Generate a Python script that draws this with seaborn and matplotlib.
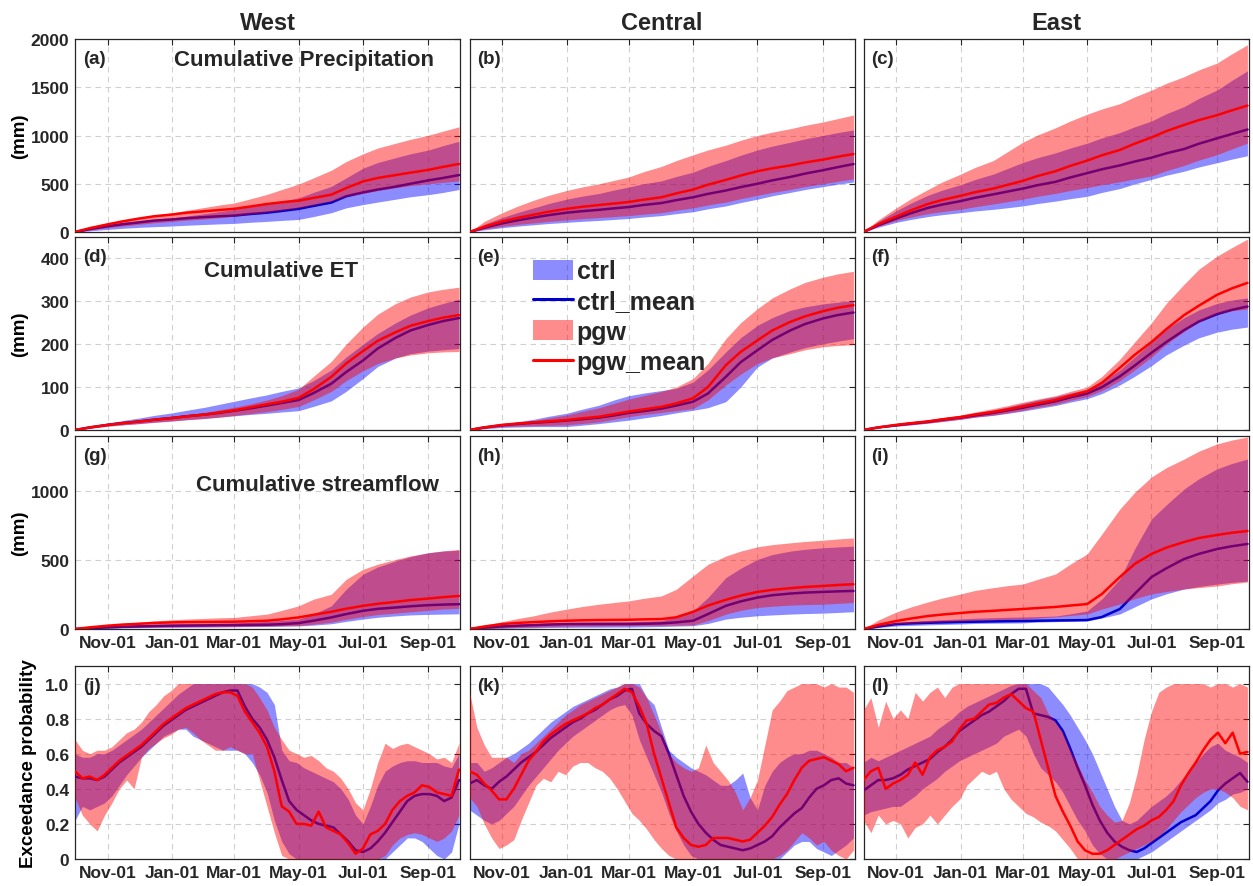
import matplotlib
matplotlib.use("Agg")
import matplotlib.pyplot as plt
import matplotlib.dates as mdates
from matplotlib.patches import Patch
from matplotlib.lines import Line2D
import pandas as pd
import seaborn as sns

# ---------------- x positions ----------------
CUM_DATES = ["2018-10-01", "2018-10-15", "2018-11-01", "2018-11-15", "2018-12-01",
             "2018-12-15", "2019-01-01", "2019-01-15", "2019-02-01", "2019-02-15",
             "2019-03-01", "2019-03-15", "2019-04-01", "2019-04-15", "2019-05-01",
             "2019-05-15", "2019-06-01", "2019-06-15", "2019-07-01", "2019-07-15",
             "2019-08-01", "2019-08-15", "2019-09-01", "2019-09-15", "2019-09-30"]
EXC_DAYS = list(range(0, 365, 7))  # weekly samples, day of water year

COLUMNS = ["West", "Central", "East"]
PANEL_LABELS = ["(a)", "(b)", "(c)", "(d)", "(e)", "(f)", "(g)", "(h)", "(i)", "(j)", "(k)", "(l)"]
XTICK_DATES = ["2018-11-01", "2019-01-01", "2019-03-01", "2019-05-01", "2019-07-01", "2019-09-01"]

# ---------------- Cumulative precipitation (mm) ----------------
a_ctrl_lo = [0, 12, 27, 38, 48, 55, 62, 70, 78, 84, 89, 100, 110, 120, 130, 160, 200, 250, 284, 310, 340, 365, 387, 410, 440]
a_ctrl_hi = [0, 45, 80, 100, 118, 133, 147, 165, 190, 212, 233, 260, 290, 320, 353, 410, 473, 560, 661, 720, 770, 810, 849, 895, 940]
a_ctrl_mean = [0, 30, 60, 80, 100, 118, 130, 143, 155, 163, 170, 185, 200, 218, 240, 270, 305, 370, 410, 440, 470, 500, 535, 560, 590]
a_pgw_lo = [0, 22, 45, 62, 80, 95, 110, 122, 135, 148, 165, 185, 205, 225, 250, 280, 320, 370, 400, 430, 460, 480, 500, 515, 530]
a_pgw_hi = [0, 55, 96, 125, 150, 175, 199, 225, 255, 280, 301, 340, 390, 440, 497, 560, 640, 730, 810, 870, 920, 960, 1003, 1045, 1090]
a_pgw_mean = [0, 40, 79, 110, 140, 163, 181, 200, 215, 228, 240, 262, 290, 308, 325, 353, 387, 455, 524, 560, 590, 615, 644, 675, 705]

b_ctrl_lo = [0, 22, 45, 60, 75, 88, 100, 110, 120, 130, 140, 155, 170, 190, 210, 240, 270, 305, 340, 375, 410, 440, 470, 495, 518]
b_ctrl_hi = [0, 80, 150, 200, 250, 295, 340, 370, 400, 435, 466, 500, 530, 575, 620, 680, 740, 795, 850, 890, 930, 965, 1000, 1030, 1057]
b_ctrl_mean = [0, 45, 90, 120, 150, 175, 200, 215, 230, 245, 259, 280, 300, 330, 360, 395, 430, 465, 500, 535, 570, 605, 640, 672, 704]
b_pgw_lo = [0, 30, 60, 78, 95, 110, 125, 138, 150, 160, 170, 185, 200, 225, 250, 280, 310, 345, 380, 410, 440, 470, 500, 525, 550]
b_pgw_hi = [0, 110, 200, 265, 330, 380, 430, 465, 500, 535, 570, 625, 680, 740, 800, 850, 900, 950, 1000, 1035, 1070, 1105, 1140, 1175, 1212]
b_pgw_mean = [0, 55, 110, 145, 180, 210, 240, 260, 280, 295, 311, 335, 360, 400, 440, 490, 540, 585, 630, 660, 690, 720, 750, 780, 808]

c_ctrl_lo = [0, 50, 100, 130, 160, 180, 200, 218, 235, 252, 270, 295, 320, 345, 370, 410, 450, 498, 545, 588, 630, 674, 717, 755, 790]
c_ctrl_hi = [0, 110, 220, 300, 380, 435, 490, 545, 600, 660, 720, 770, 820, 870, 920, 975, 1030, 1090, 1150, 1225, 1300, 1385, 1470, 1570, 1670]
c_ctrl_mean = [0, 70, 140, 195, 250, 285, 320, 355, 390, 420, 450, 485, 520, 565, 610, 650, 690, 730, 770, 815, 860, 915, 970, 1015, 1062]
c_pgw_lo = [0, 60, 120, 155, 190, 212, 235, 262, 290, 315, 340, 370, 400, 430, 460, 490, 520, 550, 580, 635, 690, 745, 800, 860, 920]
c_pgw_hi = [0, 125, 250, 345, 440, 520, 600, 670, 740, 835, 930, 1005, 1080, 1150, 1220, 1275, 1330, 1400, 1470, 1540, 1610, 1680, 1750, 1845, 1940]
c_pgw_mean = [0, 80, 160, 225, 290, 333, 375, 413, 450, 490, 530, 580, 630, 685, 740, 795, 850, 915, 980, 1045, 1110, 1160, 1210, 1260, 1310]

# ---------------- Cumulative ET (mm) ----------------
d_ctrl_lo = [0, 4, 9, 12, 15, 18, 21, 24, 27, 30, 33, 36, 39, 42, 45, 55, 68, 90, 120, 148, 168, 178, 184, 187, 190]
d_ctrl_hi = [0, 8, 16, 22, 28, 34, 40, 46, 53, 60, 67, 74, 82, 90, 98, 115, 140, 170, 200, 225, 250, 268, 285, 295, 305]
d_ctrl_mean = [0, 6, 12, 16, 20, 24, 28, 32, 36, 40, 45, 50, 57, 63, 70, 86, 108, 135, 162, 190, 215, 232, 245, 254, 261]
d_pgw_lo = [0, 4, 9, 12, 15, 18, 21, 24, 27, 30, 34, 38, 43, 48, 55, 70, 90, 115, 138, 155, 168, 175, 180, 182, 183]
d_pgw_hi = [0, 7, 14, 18, 22, 26, 31, 36, 41, 47, 53, 60, 70, 80, 95, 125, 160, 200, 240, 270, 295, 310, 322, 328, 333]
d_pgw_mean = [0, 6, 12, 16, 20, 24, 28, 32, 36, 41, 46, 52, 60, 66, 75, 95, 124, 155, 184, 208, 228, 243, 254, 262, 268]

e_ctrl_lo = [0, 3, 6, 7, 8, 8, 8, 11, 15, 19, 23, 28, 34, 40, 46, 52, 66, 100, 147, 168, 182, 192, 201, 207, 213]
e_ctrl_hi = [0, 8, 14, 19, 25, 32, 39, 48, 58, 70, 80, 86, 92, 97, 112, 140, 182, 215, 244, 262, 279, 287, 294, 298, 302]
e_ctrl_mean = [0, 6, 11, 14, 17, 19, 22, 25, 29, 34, 40, 44, 50, 57, 66, 85, 124, 158, 186, 210, 232, 247, 260, 268, 274]
e_pgw_lo = [0, 4, 8, 9, 10, 11, 12, 15, 19, 25, 31, 36, 41, 45, 50, 70, 105, 130, 155, 168, 178, 187, 194, 197, 199]
e_pgw_hi = [0, 7, 13, 17, 22, 28, 35, 43, 52, 62, 72, 80, 90, 100, 120, 155, 213, 250, 283, 308, 329, 344, 356, 364, 370]
e_pgw_mean = [0, 6, 12, 15, 18, 20, 23, 27, 31, 37, 43, 48, 54, 62, 74, 100, 151, 182, 209, 232, 252, 265, 277, 285, 291]

f_ctrl_lo = [0, 5, 9, 12, 16, 20, 25, 30, 34, 39, 44, 50, 57, 65, 73, 85, 105, 125, 150, 175, 198, 215, 228, 235, 240]
f_ctrl_hi = [0, 8, 14, 18, 23, 28, 34, 40, 47, 54, 62, 70, 78, 86, 95, 112, 140, 170, 205, 235, 262, 280, 295, 303, 308]
f_ctrl_mean = [0, 6, 11, 15, 19, 24, 29, 34, 40, 46, 52, 59, 67, 76, 85, 100, 125, 150, 180, 205, 233, 253, 270, 280, 288]
f_pgw_lo = [0, 5, 9, 12, 16, 20, 25, 30, 35, 40, 46, 53, 60, 69, 78, 92, 115, 140, 170, 200, 230, 252, 270, 278, 282]
f_pgw_hi = [0, 8, 15, 19, 24, 29, 35, 42, 50, 57, 65, 72, 80, 90, 100, 125, 165, 205, 250, 295, 340, 375, 405, 425, 445]
f_pgw_mean = [0, 6, 12, 16, 20, 25, 30, 36, 42, 48, 55, 62, 70, 80, 90, 110, 145, 175, 205, 235, 268, 290, 315, 330, 343]

# ---------------- Cumulative streamflow (mm) ----------------
g_ctrl_lo = [0, 3, 6, 8, 10, 11, 12, 13, 14, 15, 16, 17, 18, 20, 22, 28, 38, 55, 72, 85, 95, 102, 106, 108, 110]
g_ctrl_hi = [0, 10, 19, 25, 30, 33, 36, 38, 40, 42, 43, 48, 55, 62, 72, 108, 168, 288, 397, 450, 493, 525, 553, 565, 572]
g_ctrl_mean = [0, 6, 12, 16, 19, 22, 24, 25, 26, 28, 29, 30, 31, 35, 43, 60, 84, 108, 132, 146, 156, 165, 173, 177, 180]
g_pgw_lo = [0, 4, 8, 11, 13, 14, 15, 16, 17, 17, 18, 20, 22, 24, 25, 35, 50, 70, 90, 105, 115, 125, 135, 145, 150]
g_pgw_hi = [0, 15, 29, 40, 50, 58, 67, 72, 77, 81, 84, 95, 108, 135, 168, 216, 252, 360, 433, 470, 505, 530, 553, 567, 577]
g_pgw_mean = [0, 12, 24, 32, 38, 44, 48, 50, 51, 52, 53, 56, 60, 70, 84, 103, 125, 147, 168, 183, 197, 210, 221, 231, 240]

h_ctrl_lo = [0, 3, 5, 7, 9, 11, 12, 13, 13, 14, 14, 16, 18, 21, 24, 40, 72, 85, 96, 102, 108, 112, 115, 120, 125]
h_ctrl_hi = [0, 15, 29, 35, 40, 45, 48, 50, 51, 52, 53, 56, 60, 90, 132, 228, 373, 440, 505, 540, 565, 578, 589, 595, 601]
h_ctrl_mean = [0, 10, 19, 24, 28, 32, 36, 36, 36, 36, 36, 38, 41, 48, 60, 108, 168, 200, 228, 245, 257, 264, 269, 273, 276]
h_pgw_lo = [0, 4, 8, 11, 14, 17, 20, 21, 22, 23, 24, 26, 27, 28, 30, 60, 108, 135, 156, 165, 173, 177, 180, 186, 192]
h_pgw_hi = [0, 28, 53, 75, 96, 120, 144, 162, 180, 192, 204, 222, 240, 288, 385, 469, 529, 565, 596, 612, 625, 635, 644, 653, 661]
h_pgw_mean = [0, 18, 36, 44, 50, 55, 60, 63, 65, 66, 67, 70, 72, 85, 125, 170, 212, 242, 269, 284, 296, 305, 312, 319, 325]

i_ctrl_lo = [0, 11, 22, 26, 30, 33, 36, 40, 42, 43, 44, 50, 53, 56, 58, 80, 109, 160, 218, 255, 290, 308, 326, 338, 348]
i_ctrl_hi = [0, 22, 44, 55, 62, 68, 73, 78, 82, 85, 87, 90, 94, 110, 131, 218, 363, 580, 798, 900, 1016, 1090, 1161, 1200, 1233]
i_ctrl_mean = [0, 18, 36, 41, 45, 48, 51, 53, 55, 57, 58, 60, 62, 63, 65, 87, 145, 254, 377, 440, 508, 545, 580, 600, 617]
i_pgw_lo = [0, 18, 36, 42, 48, 53, 58, 63, 67, 70, 73, 80, 88, 98, 109, 145, 181, 220, 254, 272, 290, 300, 312, 328, 341]
i_pgw_hi = [0, 65, 123, 160, 196, 225, 254, 280, 300, 315, 326, 360, 399, 470, 544, 689, 870, 990, 1103, 1170, 1233, 1290, 1342, 1370, 1393]
i_pgw_mean = [0, 30, 58, 76, 94, 105, 116, 125, 132, 139, 145, 152, 160, 170, 181, 254, 377, 471, 544, 590, 631, 660, 682, 698, 711]

# ---------------- Exceedance probability (weekly) ----------------
j_ctrl_mean = [0.47, 0.46, 0.46, 0.45, 0.47, 0.51, 0.55, 0.58, 0.61, 0.64,
               0.68, 0.72, 0.76, 0.79, 0.82, 0.85, 0.87, 0.89, 0.91, 0.93,
               0.95, 0.96, 0.96, 0.87, 0.80, 0.75, 0.68, 0.58, 0.45, 0.33,
               0.28, 0.25, 0.22, 0.20, 0.19, 0.18, 0.14, 0.10, 0.05, 0.04,
               0.06, 0.10, 0.15, 0.21, 0.27, 0.33, 0.36, 0.37, 0.37, 0.36,
               0.33, 0.35, 0.45]
j_pgw_mean = [0.50, 0.46, 0.47, 0.45, 0.48, 0.52, 0.56, 0.59, 0.62, 0.65,
              0.69, 0.73, 0.77, 0.80, 0.83, 0.86, 0.88, 0.90, 0.92, 0.94,
              0.95, 0.95, 0.93, 0.84, 0.78, 0.72, 0.64, 0.50, 0.30, 0.27,
              0.20, 0.20, 0.19, 0.27, 0.18, 0.16, 0.14, 0.09, 0.03, 0.06,
              0.14, 0.16, 0.20, 0.28, 0.33, 0.36, 0.38, 0.42, 0.41, 0.38,
              0.37, 0.36, 0.51]
j_ctrl_hi = [0.60, 0.58, 0.58, 0.60, 0.60, 0.62, 0.65, 0.68, 0.71, 0.74,
             0.78, 0.82, 0.86, 0.90, 0.94, 0.97, 1.00, 1.00, 1.00, 1.00,
             1.00, 1.00, 1.00, 1.00, 1.00, 0.98, 0.95, 0.88, 0.62, 0.56,
             0.55, 0.52, 0.50, 0.48, 0.46, 0.44, 0.40, 0.34, 0.25, 0.20,
             0.30, 0.42, 0.50, 0.53, 0.55, 0.56, 0.56, 0.55, 0.55, 0.55,
             0.53, 0.52, 0.60]
j_pgw_hi = [0.68, 0.62, 0.60, 0.62, 0.62, 0.64, 0.68, 0.72, 0.74, 0.78,
            0.84, 0.88, 0.93, 0.96, 1.00, 1.00, 1.00, 1.00, 1.00, 1.00,
            1.00, 1.00, 1.00, 1.00, 0.98, 0.92, 0.85, 0.75, 0.68, 0.62,
            0.60, 0.58, 0.59, 0.56, 0.52, 0.50, 0.46, 0.40, 0.32, 0.28,
            0.40, 0.55, 0.66, 0.63, 0.65, 0.66, 0.64, 0.62, 0.60, 0.57,
            0.58, 0.55, 0.66]
j_ctrl_lo = [0.22, 0.30, 0.28, 0.30, 0.32, 0.36, 0.42, 0.48, 0.53, 0.58,
             0.62, 0.66, 0.70, 0.72, 0.74, 0.74, 0.70, 0.68, 0.66, 0.64,
             0.62, 0.62, 0.62, 0.60, 0.55, 0.48, 0.38, 0.22, 0.10, 0.03,
             0.00, 0.00, 0.00, 0.00, 0.00, 0.00, 0.00, 0.00, 0.00, 0.00,
             0.00, 0.00, 0.00, 0.04, 0.08, 0.12, 0.12, 0.10, 0.06, 0.02,
             0.00, 0.04, 0.20]
j_pgw_lo = [0.35, 0.25, 0.20, 0.16, 0.25, 0.32, 0.40, 0.45, 0.40, 0.58,
            0.63, 0.66, 0.69, 0.71, 0.74, 0.75, 0.72, 0.68, 0.65, 0.62,
            0.62, 0.64, 0.62, 0.60, 0.60, 0.45, 0.30, 0.15, 0.02, 0.00,
            0.00, 0.00, 0.00, 0.00, 0.00, 0.00, 0.00, 0.00, 0.00, 0.00,
            0.00, 0.00, 0.02, 0.08, 0.12, 0.14, 0.15, 0.14, 0.12, 0.10,
            0.12, 0.16, 0.25]

k_ctrl_mean = [0.43, 0.45, 0.42, 0.40, 0.44, 0.47, 0.51, 0.55, 0.58, 0.61,
               0.65, 0.69, 0.72, 0.75, 0.78, 0.80, 0.83, 0.85, 0.88, 0.91,
               0.93, 0.96, 0.97, 0.83, 0.77, 0.73, 0.70, 0.60, 0.48, 0.36,
               0.27, 0.20, 0.15, 0.11, 0.08, 0.07, 0.06, 0.05, 0.06, 0.08,
               0.10, 0.13, 0.18, 0.22, 0.26, 0.29, 0.35, 0.40, 0.42, 0.45,
               0.46, 0.43, 0.42]
k_pgw_mean = [0.50, 0.48, 0.43, 0.39, 0.34, 0.34, 0.40, 0.48, 0.56, 0.61,
              0.67, 0.71, 0.74, 0.77, 0.79, 0.81, 0.83, 0.86, 0.88, 0.91,
              0.94, 0.97, 0.95, 0.87, 0.77, 0.60, 0.46, 0.32, 0.18, 0.12,
              0.08, 0.07, 0.08, 0.12, 0.12, 0.12, 0.11, 0.10, 0.11, 0.15,
              0.19, 0.24, 0.31, 0.37, 0.45, 0.52, 0.56, 0.57, 0.58, 0.56,
              0.54, 0.50, 0.52]
k_ctrl_hi = [0.55, 0.55, 0.50, 0.52, 0.55, 0.58, 0.60, 0.63, 0.66, 0.70,
             0.74, 0.78, 0.81, 0.84, 0.87, 0.89, 0.91, 0.93, 0.95, 0.97,
             0.98, 1.00, 1.00, 1.00, 0.92, 0.88, 0.75, 0.62, 0.58, 0.55,
             0.52, 0.50, 0.48, 0.45, 0.42, 0.42, 0.45, 0.49, 0.35, 0.28,
             0.42, 0.50, 0.55, 0.58, 0.60, 0.60, 0.62, 0.62, 0.60, 0.58,
             0.55, 0.55, 0.52]
k_pgw_hi = [0.95, 0.75, 0.65, 0.58, 0.58, 0.58, 0.55, 0.60, 0.62, 0.66,
            0.70, 0.74, 0.78, 0.82, 0.85, 0.88, 0.90, 0.92, 0.94, 0.96,
            0.98, 1.00, 1.00, 0.98, 0.92, 0.82, 0.72, 0.60, 0.55, 0.52,
            0.50, 0.52, 0.65, 0.55, 0.50, 0.45, 0.38, 0.28, 0.35, 0.45,
            0.65, 0.85, 0.90, 0.96, 0.98, 1.00, 1.00, 1.00, 0.98, 1.00,
            0.98, 0.98, 0.95]
k_ctrl_lo = [0.28, 0.25, 0.22, 0.20, 0.22, 0.26, 0.30, 0.36, 0.42, 0.47,
             0.52, 0.57, 0.62, 0.66, 0.70, 0.73, 0.76, 0.79, 0.82, 0.85,
             0.87, 0.88, 0.82, 0.68, 0.58, 0.48, 0.38, 0.26, 0.16, 0.08,
             0.02, 0.00, 0.00, 0.00, 0.00, 0.00, 0.00, 0.00, 0.00, 0.00,
             0.00, 0.00, 0.00, 0.04, 0.08, 0.10, 0.10, 0.06, 0.04, 0.02,
             0.05, 0.08, 0.12]
k_pgw_lo = [0.35, 0.30, 0.20, 0.12, 0.06, 0.08, 0.11, 0.22, 0.32, 0.42,
            0.46, 0.44, 0.50, 0.48, 0.53, 0.55, 0.55, 0.52, 0.50, 0.46,
            0.40, 0.33, 0.26, 0.22, 0.17, 0.11, 0.06, 0.02, 0.00, 0.00,
            0.00, 0.00, 0.00, 0.00, 0.00, 0.00, 0.00, 0.00, 0.00, 0.00,
            0.00, 0.00, 0.02, 0.05, 0.10, 0.15, 0.12, 0.08, 0.10, 0.05,
            0.02, 0.00, 0.05]

l_ctrl_mean = [0.39, 0.42, 0.45, 0.45, 0.46, 0.48, 0.51, 0.53, 0.55, 0.57,
               0.61, 0.64, 0.68, 0.73, 0.76, 0.79, 0.82, 0.84, 0.87, 0.90,
               0.94, 0.97, 0.97, 0.83, 0.82, 0.81, 0.79, 0.73, 0.63, 0.52,
               0.42, 0.31, 0.22, 0.15, 0.10, 0.07, 0.05, 0.04, 0.06, 0.09,
               0.12, 0.15, 0.18, 0.21, 0.23, 0.25, 0.29, 0.33, 0.39, 0.43,
               0.46, 0.49, 0.44]
l_pgw_mean = [0.45, 0.50, 0.52, 0.40, 0.43, 0.45, 0.48, 0.55, 0.48, 0.58,
              0.62, 0.64, 0.67, 0.74, 0.79, 0.80, 0.84, 0.88, 0.89, 0.92,
              0.94, 0.90, 0.86, 0.84, 0.68, 0.52, 0.36, 0.27, 0.19, 0.10,
              0.05, 0.03, 0.03, 0.05, 0.08, 0.11, 0.14, 0.17, 0.19, 0.22,
              0.24, 0.28, 0.33, 0.42, 0.49, 0.55, 0.62, 0.68, 0.72, 0.66,
              0.72, 0.60, 0.61]
l_ctrl_hi = [0.55, 0.58, 0.56, 0.58, 0.60, 0.62, 0.64, 0.66, 0.68, 0.70,
             0.74, 0.77, 0.80, 0.84, 0.87, 0.89, 0.91, 0.93, 0.95, 0.97,
             0.99, 1.00, 1.00, 1.00, 1.00, 0.98, 0.93, 0.88, 0.82, 0.75,
             0.68, 0.60, 0.50, 0.40, 0.30, 0.22, 0.20, 0.22, 0.26, 0.30,
             0.33, 0.36, 0.40, 0.45, 0.50, 0.55, 0.60, 0.64, 0.66, 0.62,
             0.60, 0.58, 0.55]
l_pgw_hi = [0.85, 0.92, 0.75, 0.90, 0.80, 0.85, 0.80, 0.95, 0.90, 0.95,
            0.98, 0.92, 0.98, 1.00, 1.00, 1.00, 1.00, 1.00, 1.00, 1.00,
            1.00, 1.00, 1.00, 0.96, 0.92, 0.83, 0.78, 0.72, 0.62, 0.54,
            0.45, 0.38, 0.30, 0.25, 0.21, 0.22, 0.32, 0.48, 0.68, 0.84,
            0.95, 0.98, 1.00, 1.00, 1.00, 1.00, 1.00, 0.98, 1.00, 1.00,
            0.98, 1.00, 0.98]
l_ctrl_lo = [0.25, 0.27, 0.28, 0.29, 0.30, 0.30, 0.33, 0.36, 0.40, 0.43,
             0.46, 0.50, 0.53, 0.56, 0.58, 0.60, 0.62, 0.64, 0.66, 0.70,
             0.72, 0.74, 0.70, 0.60, 0.52, 0.48, 0.44, 0.38, 0.30, 0.22,
             0.16, 0.08, 0.03, 0.00, 0.00, 0.00, 0.00, 0.00, 0.02, 0.04,
             0.07, 0.10, 0.13, 0.16, 0.19, 0.22, 0.25, 0.28, 0.32, 0.34,
             0.37, 0.38, 0.40]
l_pgw_lo = [0.22, 0.15, 0.25, 0.20, 0.22, 0.20, 0.12, 0.18, 0.20, 0.25,
            0.20, 0.25, 0.30, 0.34, 0.42, 0.46, 0.50, 0.48, 0.50, 0.40,
            0.34, 0.30, 0.26, 0.24, 0.21, 0.19, 0.16, 0.11, 0.06, 0.00,
            0.00, 0.00, 0.00, 0.00, 0.00, 0.02, 0.04, 0.06, 0.08, 0.10,
            0.13, 0.17, 0.22, 0.27, 0.31, 0.35, 0.38, 0.40, 0.40, 0.38,
            0.35, 0.30, 0.28]

# ---------------- styling ----------------
sns.set_style("white")
plt.rcParams["font.family"] = ["Liberation Sans", "DejaVu Sans"]
plt.rcParams["font.weight"] = "bold"
plt.rcParams["axes.labelweight"] = "bold"

CTRL_FILL = (0.0, 0.0, 1.0)
PGW_FILL = (1.0, 0.0, 0.0)
FILL_ALPHA = 0.45
CTRL_LINE = "#0000cc"
PGW_LINE = "#ff0000"
TEXT_COL = "#262626"

W, H = 1253, 887
fig = plt.figure(figsize=(W / 100, H / 100), dpi=100)

col_left = [75, 469.5, 863.5]
col_w = 385
row_top = [40, 238, 437, 667]
row_h = 193

cum_x = pd.to_datetime(CUM_DATES)
start = pd.Timestamp("2018-10-01")
exc_x = start + pd.to_timedelta(EXC_DAYS, unit="D")

panels = [
    [(a_ctrl_lo, a_ctrl_hi, a_ctrl_mean, a_pgw_lo, a_pgw_hi, a_pgw_mean),
     (b_ctrl_lo, b_ctrl_hi, b_ctrl_mean, b_pgw_lo, b_pgw_hi, b_pgw_mean),
     (c_ctrl_lo, c_ctrl_hi, c_ctrl_mean, c_pgw_lo, c_pgw_hi, c_pgw_mean)],
    [(d_ctrl_lo, d_ctrl_hi, d_ctrl_mean, d_pgw_lo, d_pgw_hi, d_pgw_mean),
     (e_ctrl_lo, e_ctrl_hi, e_ctrl_mean, e_pgw_lo, e_pgw_hi, e_pgw_mean),
     (f_ctrl_lo, f_ctrl_hi, f_ctrl_mean, f_pgw_lo, f_pgw_hi, f_pgw_mean)],
    [(g_ctrl_lo, g_ctrl_hi, g_ctrl_mean, g_pgw_lo, g_pgw_hi, g_pgw_mean),
     (h_ctrl_lo, h_ctrl_hi, h_ctrl_mean, h_pgw_lo, h_pgw_hi, h_pgw_mean),
     (i_ctrl_lo, i_ctrl_hi, i_ctrl_mean, i_pgw_lo, i_pgw_hi, i_pgw_mean)],
    [(j_ctrl_lo, j_ctrl_hi, j_ctrl_mean, j_pgw_lo, j_pgw_hi, j_pgw_mean),
     (k_ctrl_lo, k_ctrl_hi, k_ctrl_mean, k_pgw_lo, k_pgw_hi, k_pgw_mean),
     (l_ctrl_lo, l_ctrl_hi, l_ctrl_mean, l_pgw_lo, l_pgw_hi, l_pgw_mean)],
]

row_ylim = [(0, 2000), (0, 450), (0, 1400), (0, 1.1)]
row_yticks = [[0, 500, 1000, 1500, 2000], [0, 100, 200, 300, 400], [0, 500, 1000],
              [0, 0.2, 0.4, 0.6, 0.8, 1.0]]
row_yticklabels = [["0", "500", "1000", "1500", "2000"], ["0", "100", "200", "300", "400"],
                   ["0", "500", "1000"], ["0", "0.2", "0.4", "0.6", "0.8", "1.0"]]
row_ylabel = ["(mm)", "(mm)", "(mm)", "Exceedance probability"]
row_notes = {0: ("Cumulative Precipitation", 0.596, 0.896),
             1: ("Cumulative ET", 0.534, 0.824),
             2: ("Cumulative streamflow", 0.630, 0.751)}

xt = pd.to_datetime(XTICK_DATES)
axes = {}
for r in range(4):
    for c in range(3):
        left = col_left[c] / W
        bottom = 1 - (row_top[r] + row_h) / H
        ax = fig.add_axes([left, bottom, col_w / W, row_h / H])
        axes[(r, c)] = ax
        x = exc_x if r == 3 else cum_x
        clo, chi, cm, plo, phi, pm = panels[r][c]

        ax.fill_between(x, clo, chi, color=CTRL_FILL, alpha=FILL_ALPHA, lw=0, zorder=2)
        sns.lineplot(x=x, y=cm, ax=ax, color=CTRL_LINE, lw=1.8, zorder=3)
        ax.fill_between(x, plo, phi, color=PGW_FILL, alpha=FILL_ALPHA, lw=0, zorder=4)
        sns.lineplot(x=x, y=pm, ax=ax, color=PGW_LINE, lw=1.8, zorder=5)

        ax.set_xlim(start, pd.Timestamp("2019-10-01"))
        ax.set_ylim(*row_ylim[r])
        ax.set_xticks(xt)
        ax.xaxis.set_major_formatter(mdates.DateFormatter("%b-%d"))
        ax.set_yticks(row_yticks[r])
        ax.set_yticklabels(row_yticklabels[r])
        ax.set_xlabel("")
        ax.set_ylabel("")
        ax.set_axisbelow(True)
        ax.grid(True, ls=(0, (5, 4)), color="#d0d0d0", lw=0.8, zorder=0)
        ax.tick_params(direction="in", top=True, right=True, length=4, width=0.8,
                       colors=TEXT_COL, labelsize=12.5, pad=4)
        for lab in ax.get_xticklabels() + ax.get_yticklabels():
            lab.set_fontweight("bold")
        for s in ax.spines.values():
            s.set_color(TEXT_COL)
            s.set_linewidth(0.9)
        if r < 2:
            ax.tick_params(labelbottom=False)
        if c > 0:
            ax.tick_params(labelleft=False)
        else:
            ax.set_ylabel(row_ylabel[r], fontsize=13.5, fontweight="bold", color="black")
            xr = (28 - 75) / col_w if r < 3 else (37 - 75) / col_w
            ax.yaxis.set_label_coords(xr, 0.5)
        if r == 0:
            ax.set_title(COLUMNS[c], fontsize=17, fontweight="bold", pad=7)
        ax.text(0.02, 0.945, PANEL_LABELS[r * 3 + c], transform=ax.transAxes,
                fontsize=13.5, fontweight="bold", ha="left", va="top", zorder=10)
        if c == 0 and r in row_notes:
            txt, tx, ty = row_notes[r]
            ax.text(tx, ty, txt, transform=ax.transAxes, fontsize=16,
                    fontweight="bold", ha="center", va="center", zorder=10)

handles = [Patch(facecolor=CTRL_FILL, alpha=FILL_ALPHA, edgecolor="none", label="ctrl"),
           Line2D([0], [0], color=CTRL_LINE, lw=2.2, label="ctrl_mean"),
           Patch(facecolor=PGW_FILL, alpha=FILL_ALPHA, edgecolor="none", label="pgw"),
           Line2D([0], [0], color=PGW_LINE, lw=2.2, label="pgw_mean")]
leg = axes[(1, 1)].legend(handles=handles, loc="upper left", bbox_to_anchor=(0.165, 0.885),
                          frameon=False, prop={"size": 18, "weight": "bold"},
                          handlelength=1.6, handleheight=0.85, handletextpad=0.15,
                          labelspacing=0.25, borderpad=0, borderaxespad=0)
leg.set_zorder(20)

fig.savefig("out.png", dpi=100)
